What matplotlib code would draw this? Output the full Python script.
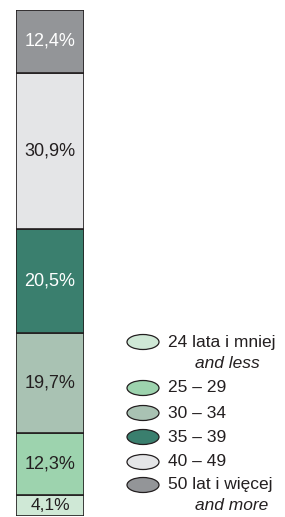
import matplotlib.pyplot as plt
from matplotlib.patches import Ellipse

plt.rcParams['font.family'] = ['Liberation Sans', 'DejaVu Sans']

# data (bottom -> top)
groups = ['24 lata i mniej', '25 – 29', '30 – 34', '35 – 39', '40 – 49', '50 lat i więcej']
groups_en = ['and less', '', '', '', '', 'and more']
shares = [4.1, 12.3, 19.7, 20.5, 30.9, 12.4]
labels = ['4,1%', '12,3%', '19,7%', '20,5%', '30,9%', '12,4%']
colors = ['#cfe8d6', '#9dd3ae', '#a9c2b3', '#3a7f6e', '#e4e5e7', '#939598']
text_colors = ['#231f20', '#231f20', '#231f20', 'white', '#231f20', 'white']

W, H = 285, 517
fig = plt.figure(figsize=(W / 100, H / 100), dpi=100)

# stacked bar
ax = fig.add_axes([16 / W, 1 / H, 68 / W, (H - 11) / H])
bottom = 0
for v, lab, c, tc in zip(shares, labels, colors, text_colors):
    ax.bar(0, v, bottom=bottom, width=1, color=c, edgecolor='#231f20', linewidth=1.2)
    ax.text(0, bottom + v / 2, lab, ha='center', va='center',
            fontsize=13 if v > 6 else 12.5, color=tc)
    bottom += v
ax.set_xlim(-0.5, 0.5)
ax.set_ylim(0, bottom)
ax.axis('off')

# legend
lax = fig.add_axes([0, 0, 1, 1])
lax.set_xlim(0, W)
lax.set_ylim(H, 0)
lax.axis('off')
ys = [342, 388, 413, 437, 462, 485]
for g, en, c, y in zip(groups, groups_en, colors, ys):
    lax.add_patch(Ellipse((143, y), 32, 15, facecolor=c, edgecolor='#231f20', linewidth=0.9))
    lax.text(168, y, g, ha='left', va='center', fontsize=12.5, color='#231f20')
    if en:
        lax.text(195, y + 21, en, ha='left', va='center', fontsize=12.5,
                 style='italic', color='#231f20')

fig.savefig('out.png', dpi=100)
